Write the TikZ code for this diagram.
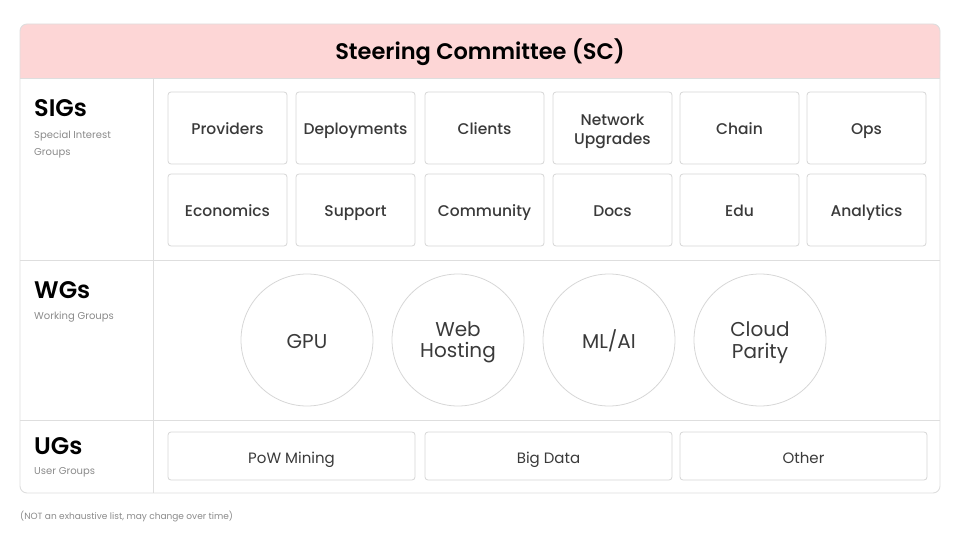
\documentclass[tikz,border=0pt]{standalone}
\usepackage{fontspec}
\setmainfont{Poppins}
\newfontfamily\medfont{Poppins Medium}
\newfontfamily\semifont{Poppins SemiBold}
\begin{document}
\begin{tikzpicture}[x=1pt,y=-1pt,
  line/.style={draw=gridgray,line width=0.9pt},
  sigbase/.style={draw=boxgray,line width=0.8pt,rounded corners=3pt,fill=white,minimum width=119pt,minimum height=72pt,inner sep=0pt,align=center,font=\fontsize{15.5}{19}\medfont,text=txt},
  sigbox/.style={sigbase,text height=14pt,text depth=0pt},
  multitext/.style={inner sep=0pt,align=center,text=txt},
  ugbox/.style={draw=boxgray,line width=0.8pt,rounded corners=3pt,fill=white,minimum width=247pt,minimum height=48pt,inner sep=0pt,align=center,font=\fontsize{15}{17}\selectfont,text=txt,text height=14pt,text depth=0pt},
  wgcirc/.style={circle,draw=boxgray,line width=0.8pt,minimum size=132pt,inner sep=0pt},
  wgtext/.style={inner sep=0pt,align=center,font=\fontsize{20}{21.5}\selectfont,text=txt},
  rowtitle/.style={anchor=west,inner sep=0pt,font=\fontsize{24}{26}\semifont,text=black},
  rowsub/.style={anchor=north west,inner sep=0pt,align=left,font=\fontsize{10}{16.5}\selectfont,text=subgray}]
\definecolor{gridgray}{HTML}{DEDEDE}
\definecolor{boxgray}{HTML}{D6D6D6}
\definecolor{pinkfill}{HTML}{FDD6D6}
\definecolor{txt}{HTML}{3A3A3A}
\definecolor{subgray}{HTML}{8A8A8A}
\useasboundingbox (0,0) rectangle (961,540);
% header
\path[fill=pinkfill,rounded corners=7pt] (20,78) |- (940,24) -- (940,78) -- cycle;
\path[fill=pinkfill] (20,60) rectangle (940,78);
\node[font=\fontsize{22.5}{24}\semifont,text=black] (sc) at (480,52) {Steering Committee (SC)};
% outer frame
\draw[line,rounded corners=7pt] (20,24) rectangle (940,493);
\draw[line] (20,78) -- (940,78);
\draw[line] (20,260) -- (940,260);
\draw[line] (20,420) -- (940,420);
\draw[line] (153,78) -- (153,493);
% row titles
\node[rowtitle] (sigt) at (34,108) {SIGs};
\node[rowsub] (sigs) at (34,131) {Special Interest\\Groups};
\node[rowtitle] (wgt) at (34,290) {WGs};
\node[rowsub] (wgs) at (34,312) {Working Groups};
\node[rowtitle] (ugt) at (34,446) {UGs};
\node[rowsub] (ugs) at (34,467) {User Groups};
% SIG boxes
\node[sigbox] (s1) at (227.5,128) {Providers};
\node[sigbox] (s2) at (355.5,128) {Deployments};
\node[sigbox] (s3) at (484.5,128) {Clients};
\node[sigbase] (s4) at (612.5,128) {};
\node[multitext,font=\fontsize{15.5}{19}\medfont] (s4t) at ([yshift=-3.5pt]s4.center) {Network\\Upgrades};
\node[sigbox] (s5) at (739.5,128) {Chain};
\node[sigbox] (s6) at (866.5,128) {Ops};
\node[sigbox] (s7) at (227.5,210) {Economics};
\node[sigbox] (s8) at (355.5,210) {Support};
\node[sigbox] (s9) at (484.5,210) {Community};
\node[sigbox] (s10) at (612.5,210) {Docs};
\node[sigbox] (s11) at (739.5,210) {Edu};
\node[sigbox] (s12) at (866.5,210) {Analytics};
% WG circles
\node[wgcirc] (w1) at (307,340) {};
\node[wgcirc] (w2) at (458,340) {};
\node[wgcirc] (w3) at (609,340) {};
\node[wgcirc] (w4) at (760,340) {};
\node[wgtext,text height=16pt,text depth=0pt] (w1t) at (w1.center) {GPU};
\node[wgtext] (w2t) at ([yshift=-2.5pt]w2.center) {Web\\Hosting};
\node[wgtext,text height=16pt,text depth=0pt] (w3t) at (w3.center) {ML/AI};
\node[wgtext] (w4t) at ([yshift=-2.5pt]w4.center) {Cloud\\Parity};
% UG boxes
\node[ugbox] (u1) at (291.5,456) {PoW Mining};
\node[ugbox] (u2) at (548.5,456) {Big Data};
\node[ugbox] (u3) at (803.5,456) {Other};
% footnote
\node[anchor=west,inner sep=0pt,font=\fontsize{9}{11}\selectfont,text=subgray] (fn) at (20,517) {(NOT an exhaustive list, may change over time)};
\end{tikzpicture}
\end{document}
